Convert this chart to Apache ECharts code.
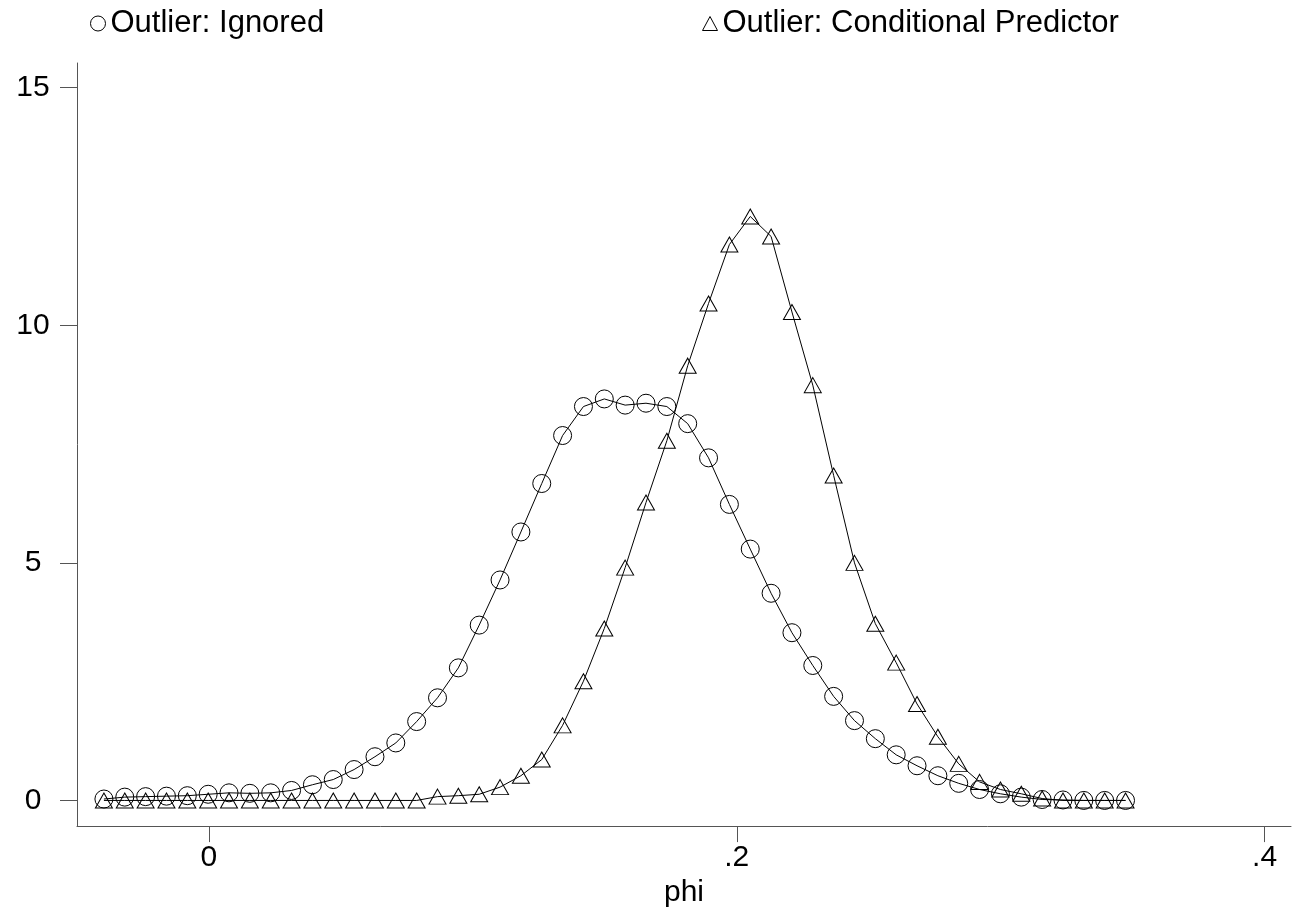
<!DOCTYPE html>
<html>
<head>
<meta charset="utf-8">
<script src="https://cdn.jsdelivr.net/npm/echarts@6/dist/echarts.min.js"></script>
<style>
html,body{margin:0;padding:0;background:#fff;}
#chart{width:1301px;height:913px;}
</style>
</head>
<body>
<div id="chart"></div>
<script>
// grid of phi values shared by both density estimates
const phi = [-0.0398,-0.0319,-0.0240,-0.0161,-0.0082,-0.0003,0.0076,0.0155,0.0234,0.0313,
  0.0392,0.0471,0.0550,0.0629,0.0708,0.0787,0.0866,0.0945,0.1024,0.1103,
  0.1182,0.1261,0.1340,0.1419,0.1498,0.1577,0.1656,0.1735,0.1814,0.1893,
  0.1972,0.2051,0.2130,0.2209,0.2288,0.2367,0.2446,0.2525,0.2604,0.2683,
  0.2762,0.2841,0.2920,0.2999,0.3078,0.3157,0.3236,0.3315,0.3394,0.3473];
// Outlier: Ignored (circles)
const ignored = [0.03,0.07,0.08,0.09,0.10,0.13,0.16,0.15,0.16,0.21,
  0.33,0.44,0.65,0.92,1.21,1.66,2.16,2.79,3.69,4.64,
  5.65,6.67,7.68,8.29,8.45,8.32,8.36,8.29,7.93,7.21,
  6.23,5.29,4.36,3.53,2.84,2.19,1.68,1.30,0.96,0.73,
  0.52,0.36,0.23,0.14,0.07,0.02,0.01,0.0,0.0,0.0];
// Outlier: Conditional Predictor (triangles)
const conditional = [0.0,0.0,0.0,0.0,0.0,0.0,0.0,0.0,0.0,0.0,
  0.0,0.0,0.0,0.0,0.0,0.0,0.08,0.10,0.13,0.28,
  0.52,0.86,1.58,2.51,3.62,4.90,6.27,7.57,9.15,10.46,
  11.70,12.29,11.87,10.28,8.74,6.84,5.00,3.72,2.90,2.03,
  1.34,0.77,0.39,0.23,0.14,0.04,0.0,0.0,0.0,0.0];
const xTicks = [0, 0.2, 0.4];
const yTicks = [0, 5, 10, 15];
const seriesNames = ['Outlier: Ignored', 'Outlier: Conditional Predictor'];

const FONT = '"Liberation Sans", Arial, Helvetica, sans-serif';
const chart = echarts.init(document.getElementById('chart'), null, {renderer: 'canvas'});
const fmtX = v => (v === 0 ? '0' : String(+v.toFixed(2)).replace(/^0\./, '.'));
const mk = (name, ys, symbol, size) => ({
  name, type: 'line', data: phi.map((x, i) => [x, ys[i]]),
  symbol, symbolSize: size, showAllSymbol: true, smooth: false,
  lineStyle: {color: '#000', width: 1},
  itemStyle: {color: 'rgba(0,0,0,0)', borderColor: '#000', borderWidth: 1},
  emphasis: {disabled: true}, z: 3
});
chart.setOption({
  animation: false,
  backgroundColor: '#fff',
  textStyle: {fontFamily: FONT, color: '#000'},
  grid: {left: 77, right: 10, top: 63, bottom: 83, containLabel: false},
  legend: [
    {data: [{name: seriesNames[0], icon: 'circle'}], left: 85, top: 3, itemWidth: 15, itemHeight: 15,
     textStyle: {fontSize: 31, color: '#000', fontFamily: FONT},
     itemStyle: {color: 'rgba(0,0,0,0)', borderColor: '#000', borderWidth: 1}, selectedMode: false},
    {data: [{name: seriesNames[1], icon: 'triangle'}], left: 697, top: 3, itemWidth: 15, itemHeight: 14,
     textStyle: {fontSize: 31, color: '#000', fontFamily: FONT},
     itemStyle: {color: 'rgba(0,0,0,0)', borderColor: '#000', borderWidth: 1}, selectedMode: false}
  ],
  xAxis: {
    type: 'value', min: -0.05, max: 0.41,
    name: 'phi', nameLocation: 'middle', nameGap: 34,
    nameTextStyle: {fontSize: 30, color: '#000', fontFamily: FONT},
    axisLine: {onZero: false, lineStyle: {color: '#555', width: 1}},
    axisTick: {show: true, length: 16, lineStyle: {color: '#555'}, customValues: xTicks},
    axisLabel: {fontSize: 30, color: '#000', margin: 17, customValues: xTicks, formatter: fmtX},
    splitLine: {show: false}
  },
  yAxis: {
    type: 'value', min: -0.54, max: 15.52,
    axisLine: {show: true, onZero: false, lineStyle: {color: '#555', width: 1}},
    axisTick: {show: true, length: 17, lineStyle: {color: '#555'}, customValues: yTicks},
    axisLabel: {fontSize: 30, color: '#000', margin: 44, align: 'center', customValues: yTicks},
    splitLine: {show: false}
  },
  series: [
    mk(seriesNames[0], ignored, 'circle', 18),
    mk(seriesNames[1], conditional, 'triangle', [17, 15])
  ]
});
</script>
</body>
</html>
